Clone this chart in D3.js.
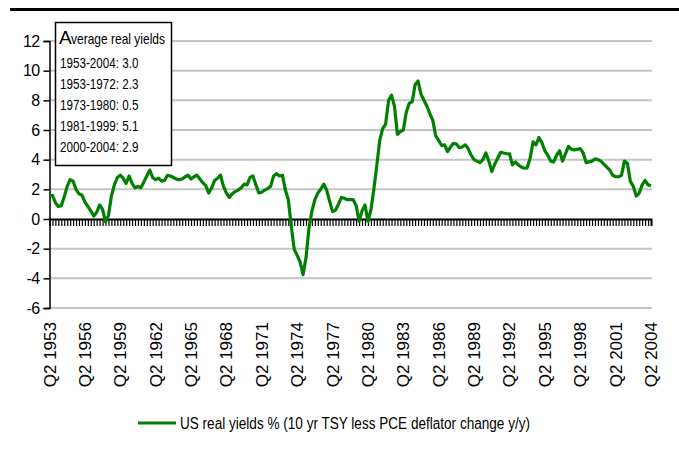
<!doctype html>
<html>
<head>
  <meta charset="utf8">
  <title>real yields</title>
  <style>
    body {
      margin: 0;
      padding: 0;
      background: #fff;
    }
    svg text {
      font-family: "Liberation Sans", Arial, sans-serif;
      fill: #000;
    }
  </style>
</head>
<body>
  <svg id="chart"></svg>

  <script src="https://d3js.org/d3.v7.min.js"></script>
  <script>
    // quarterly, Q2 1953 .. Q2 2004
    const firstYear = 1953
    const firstQuarter = 2
    const realYield = [
      1.55, 1.6, 1.1, 0.85, 0.9, 1.5, 2.2, 2.65, 2.55, 2.0,
      1.7, 1.6, 1.15, 0.85, 0.55, 0.2, 0.45, 0.95, 0.65, -0.2,
      0.25, 1.55, 2.3, 2.8, 2.95, 2.75, 2.4, 2.9, 2.4, 2.1,
      2.2, 2.1, 2.5, 2.9, 3.3, 2.8, 2.65, 2.75, 2.55, 2.6,
      2.95, 2.9, 2.8, 2.7, 2.65, 2.7, 2.85, 2.95, 2.7, 2.85,
      2.95, 2.7, 2.45, 2.25, 1.75, 2.1, 2.6, 2.75, 2.95, 2.2,
      1.75, 1.45, 1.7, 1.85, 1.95, 2.1, 2.35, 2.3, 2.8, 2.9,
      2.3, 1.75, 1.8, 1.95, 2.05, 2.2, 2.9, 3.05, 2.9, 2.95,
      1.95, 1.3, -0.5, -2.05, -2.45, -2.9, -3.75, -2.6, -0.6, 0.55,
      1.3, 1.75, 2.0, 2.35, 1.95, 1.2, 0.5, 0.6, 1.0, 1.45,
      1.4, 1.3, 1.3, 1.3, 0.9, -0.15, 0.55, 0.95, -0.15, 0.6,
      2.0, 3.6, 5.3, 6.1, 6.4, 8.0, 8.35, 7.6, 5.7, 5.9,
      6.0, 7.2, 7.8, 7.9, 9.05, 9.3, 8.4, 8.0, 7.6, 7.1,
      6.65, 5.6, 5.3, 4.95, 5.0, 4.55, 4.85, 5.1, 5.05, 4.8,
      4.85, 5.0, 4.75, 4.3, 4.0, 3.9, 3.8, 4.0, 4.45, 3.9,
      3.2, 3.7, 4.1, 4.5, 4.45, 4.4, 4.4, 3.65, 3.85, 3.65,
      3.5, 3.42, 3.45, 4.1, 5.2, 5.0, 5.5, 5.15, 4.6, 4.3,
      3.9, 3.85, 4.3, 4.6, 3.9, 4.4, 4.9, 4.7, 4.65, 4.7,
      4.75, 4.45, 3.8, 3.85, 3.9, 4.05, 4.0, 3.9, 3.7, 3.5,
      3.3, 2.95, 2.85, 2.85, 2.95, 3.9, 3.75, 2.55, 2.2, 1.55,
      1.75, 2.3, 2.6, 2.3, 2.25
    ]
    const yTicks = [12, 10, 8, 6, 4, 2, 0, -2, -4, -6]
    const tickLabels = ['Q2 1953', 'Q2 1956', 'Q2 1959', 'Q2 1962', 'Q2 1965', 'Q2 1968',
      'Q2 1971', 'Q2 1974', 'Q2 1977', 'Q2 1980', 'Q2 1983', 'Q2 1986', 'Q2 1989',
      'Q2 1992', 'Q2 1995', 'Q2 1998', 'Q2 2001', 'Q2 2004']
    const boxTitle = 'Average real yields'
    const boxLines = ['1953-2004: 3.0', '1953-1972: 2.3', '1973-1980: 0.5', '1981-1999: 5.1', '2000-2004: 2.9']
    const seriesName = 'US real yields % (10 yr TSY less PCE deflator change y/y)'

    const categories = realYield.map((v, i) => {
      const q = firstQuarter - 1 + i
      return 'Q' + (q % 4 + 1) + ' ' + (firstYear + Math.floor(q / 4))
    })
    const data = categories.map((c, i) => ({ cat: c, value: realYield[i] }))

    const width = 679
    const height = 450
    const green = '#008000'

    const svg = d3.select('#chart')
      .attr('width', width)
      .attr('height', height)

    // heavy rule across the top
    svg.append('line')
      .attr('x1', 10).attr('x2', width)
      .attr('y1', 9.5).attr('y2', 9.5)
      .style('stroke', '#000')
      .style('stroke-width', 3)

    const x = d3.scalePoint()
      .domain(categories)
      .range([49.5, 651])

    const y = d3.scaleLinear()
      .domain([-6, 12])
      .range([308, 41])

    // gridlines
    svg.append('g')
      .selectAll('line')
      .data(yTicks.filter(d => d !== 0))
      .join('line')
      .attr('x1', 50).attr('x2', 652)
      .attr('y1', d => y(d)).attr('y2', d => y(d))
      .style('stroke', '#c4c4c4')
      .style('stroke-width', 2)

    // y axis
    const yAxis = svg.append('g')
      .attr('transform', 'translate(49.5,0)')
      .call(d3.axisLeft(y).tickValues(yTicks).tickSize(6).tickPadding(4).tickFormat(d => String(d)))
    yAxis.select('.domain').style('stroke', '#000').style('stroke-width', 1.5)
    yAxis.selectAll('.tick line').style('stroke', '#000').style('stroke-width', 1.5)
    yAxis.selectAll('.tick text')
      .style('font-size', '16px')
      .style('letter-spacing', '-0.6px')
      .attr('font-family', null)

    // zero line with a tick for every quarter
    const xAxis = svg.append('g')
      .attr('transform', `translate(0,${y(0)})`)
      .call(d3.axisBottom(x).tickSize(7).tickFormat(''))
    xAxis.select('.domain').style('stroke', '#000').style('stroke-width', 2)
    xAxis.selectAll('.tick line').style('stroke', '#000').style('stroke-width', 1.2)

    // category labels under the plot
    svg.append('g')
      .selectAll('text')
      .data(tickLabels)
      .join('text')
      .attr('transform', d => `translate(${x(d) + 6},322) rotate(-90)`)
      .style('text-anchor', 'end')
      .style('font-size', '17px')
      .text(d => d)

    // series
    const line = d3.line()
      .x(d => x(d.cat))
      .y(d => y(d.value))

    svg.append('path')
      .datum(data)
      .attr('d', line)
      .style('fill', 'none')
      .style('stroke', green)
      .style('stroke-width', 3.2)
      .style('stroke-linejoin', 'round')

    // averages box
    const box = svg.append('g')
    box.append('rect')
      .attr('x', 55.5).attr('y', 22.5)
      .attr('width', 116).attr('height', 143)
      .style('fill', '#fff')
      .style('stroke', '#000')
      .style('stroke-width', 1.5)

    box.append('text')
      .attr('x', 59).attr('y', 44)
      .style('font-size', '19px')
      .text(boxTitle[0])
    box.append('text')
      .attr('x', 71).attr('y', 44)
      .attr('textLength', 94)
      .attr('lengthAdjust', 'spacingAndGlyphs')
      .style('font-size', '15px')
      .text(boxTitle.slice(1))

    box.selectAll('.avg')
      .data(boxLines)
      .join('text')
      .attr('class', 'avg')
      .attr('x', 60)
      .attr('y', (d, i) => 68 + i * 21)
      .attr('textLength', d => d.length * 5.6)
      .attr('lengthAdjust', 'spacingAndGlyphs')
      .style('font-size', '15px')
      .text(d => d)

    // legend
    const legend = svg.append('g')
    legend.append('line')
      .attr('x1', 138).attr('x2', 176)
      .attr('y1', 423).attr('y2', 423)
      .style('stroke', green)
      .style('stroke-width', 3)
    legend.append('text')
      .attr('x', 180).attr('y', 429)
      .attr('textLength', 350)
      .attr('lengthAdjust', 'spacingAndGlyphs')
      .style('font-size', '16px')
      .text(seriesName)
  </script>
</body>
</html>
